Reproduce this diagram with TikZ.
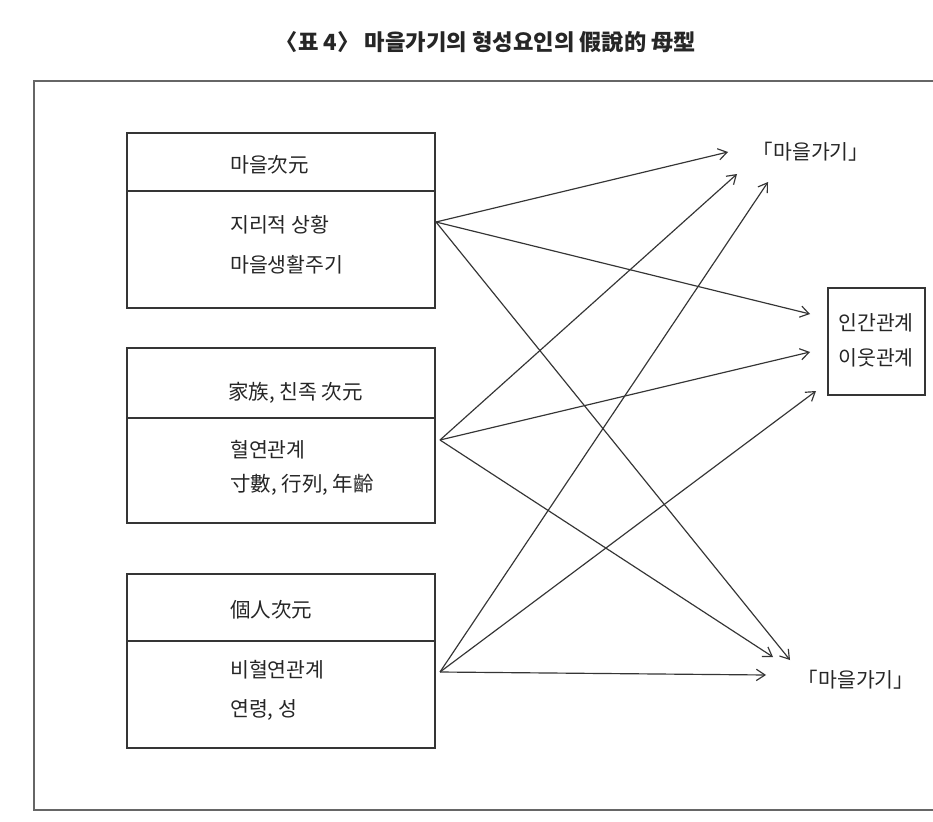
\documentclass[tikz,border=0pt]{standalone}
\usepackage{fontspec}
\setmainfont{Noto Sans CJK KR}
\usetikzlibrary{arrows.meta}
\definecolor{ink}{HTML}{262626}
\definecolor{lin}{HTML}{353535}
\definecolor{frm}{HTML}{666666}
\begin{document}
\begin{tikzpicture}[x=0.03cm,y=-0.03cm,
  box/.style={draw=lin,line width=1.2pt,inner sep=0pt,minimum width=9.24cm},
  lbl/.style={anchor=west,inner sep=0pt,text=ink,font=\fontsize{17.5}{20}\selectfont},
  tgt/.style={inner sep=0pt,text=ink,font=\fontsize{17.5}{20}\selectfont},
  arr/.style={draw=lin,line width=1pt,-{Straight Barb[length=2.6mm,width=3.4mm]}}]
\useasboundingbox[fill=white] (0,0) rectangle (933,822);
% outer frame (right side cut off)
\draw[frm,line width=1.7pt] (933,81) -- (34,81) -- (34,810) -- (933,810);
% title
\node[tgt,font=\fontsize{19}{22}\selectfont\bfseries] (title) at (486,42) {〈표 4〉 마을가기의 형성요인의 假說的 母型};
% left boxes
\node[box,minimum height=5.25cm] (b1) at (281,220.5) {};
\node[box,minimum height=5.25cm] (b2) at (281,435.5) {};
\node[box,minimum height=5.22cm] (b3) at (281,661) {};
\draw[lin,line width=1.2pt] (b1.west |- 0,191) -- (b1.east |- 0,191);
\draw[lin,line width=1.2pt] (b2.west |- 0,418) -- (b2.east |- 0,418);
\draw[lin,line width=1.2pt] (b3.west |- 0,641) -- (b3.east |- 0,641);
\node[lbl] (h1) at (230,165) {마을次元};
\node[lbl] (t1a) at (230,225) {지리적 상황};
\node[lbl] (t1b) at (230,265) {마을생활주기};
\node[lbl] (h2) at (228,393) {家族, 친족 次元};
\node[lbl] (t2a) at (230,450) {혈연관계};
\node[lbl] (t2b) at (230,485) {寸數, 行列, 年齡};
\node[lbl] (h3) at (230,610) {個人次元};
\node[lbl] (t3a) at (230,670) {비혈연관계};
\node[lbl] (t3b) at (230,710) {연령, 성};
% targets
\node[tgt] (top) at (811,152) {「마을가기」};
\node[draw=lin,line width=1.2pt,minimum width=2.91cm,minimum height=3.21cm,inner sep=0pt] (rel) at (876.5,341.5) {};
\node[tgt] (rel1) at (876,323) {인간관계};
\node[tgt] (rel2) at (876,358) {이웃관계};
\node[tgt] (bot) at (856,680) {「마을가기」};
% start and end points
\coordinate (s1) at (436,222);
\coordinate (s2) at (440,440);
\coordinate (s3) at (440,672);
\coordinate (e1a) at (728,152);
\coordinate (e2a) at (737,174);
\coordinate (e3a) at (768,182);
\coordinate (e1b) at (810,314);
\coordinate (e2b) at (810,352);
\coordinate (e3b) at (816,391);
\coordinate (e2c) at (773,657);
\coordinate (e1c) at (790,660);
\coordinate (e3c) at (766,675);
% connectors
\draw[arr] (s1) -- (e1a);
\draw[arr] (s1) -- (e1b);
\draw[arr] (s1) -- (e1c);
\draw[arr] (s2) -- (e2a);
\draw[arr] (s2) -- (e2b);
\draw[arr] (s2) -- (e2c);
\draw[arr] (s3) -- (e3a);
\draw[arr] (s3) -- (e3b);
\draw[arr] (s3) -- (e3c);
\end{tikzpicture}
\end{document}
